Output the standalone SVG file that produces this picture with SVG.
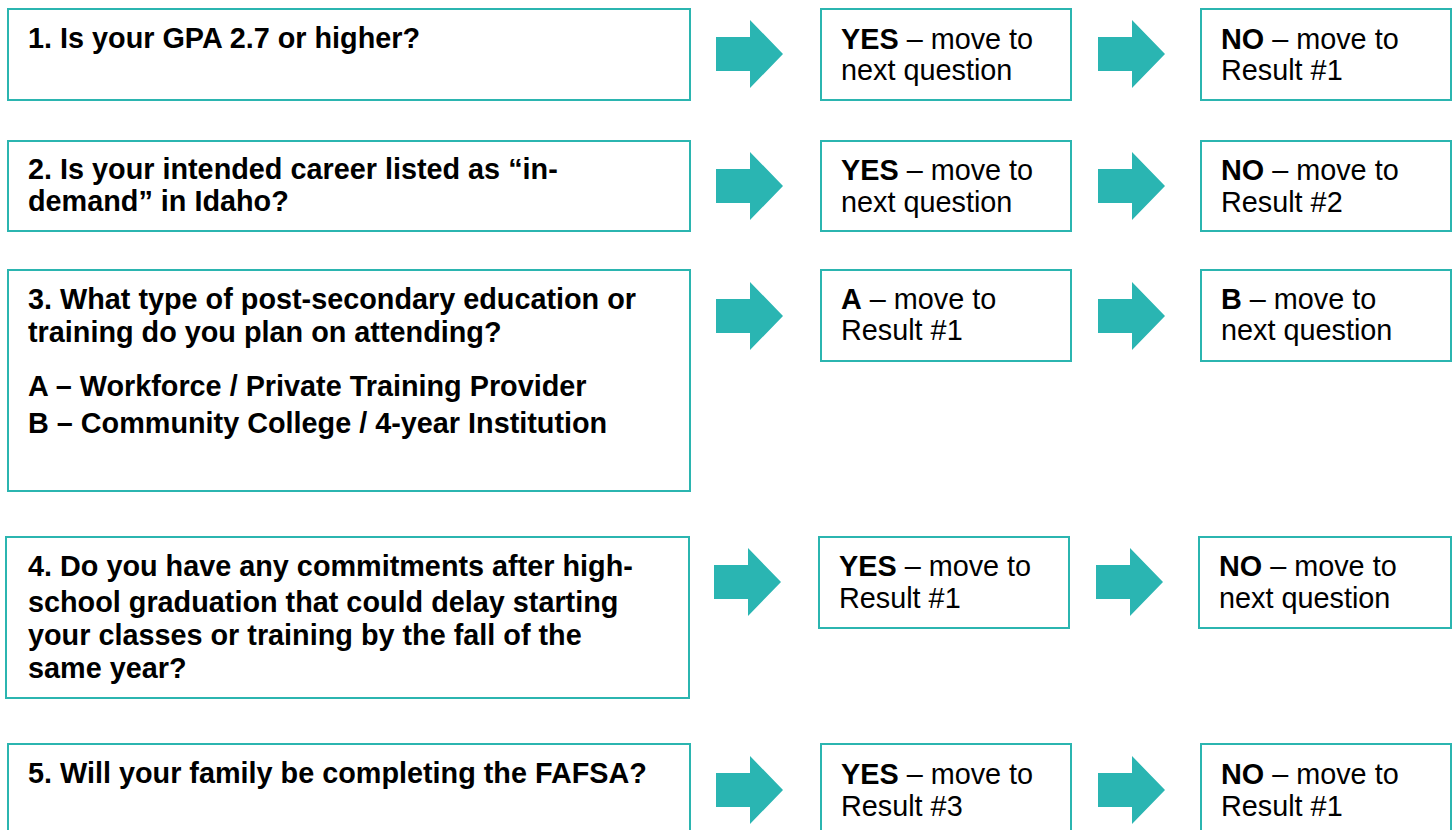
<svg xmlns="http://www.w3.org/2000/svg" width="1456" height="830" viewBox="0 0 1456 830">
<style>
.box{fill:#fff;stroke:#2bb5b0;stroke-width:2}
.arr{fill:#2ab5b2}
text{font-family:"Liberation Sans",Arial,sans-serif;font-size:28.8px;fill:#000}
.b{font-weight:bold}
</style>
<rect width="1456" height="830" fill="#fff"/>
<defs>
<polygon id="ar" class="arr" points="0,-17 34,-17 34,-34 67,0 34,34 34,17 0,17"/>
</defs>
<g id="connectors">
<use href="#ar" x="716" y="54"/>
<use href="#ar" x="1098" y="54"/>
<use href="#ar" x="716" y="186"/>
<use href="#ar" x="1098" y="186"/>
<use href="#ar" x="716" y="316"/>
<use href="#ar" x="1098" y="316"/>
<use href="#ar" x="714" y="582"/>
<use href="#ar" x="1096" y="582"/>
<use href="#ar" x="716" y="790"/>
<use href="#ar" x="1098" y="790"/>
</g>
<g id="q1">
<rect class="box" x="8" y="9" width="682" height="91"/>
<text class="b" x="28" y="48">1. Is your GPA 2.7 or higher?</text>
</g>
<g id="q1yes">
<rect class="box" x="821" y="9" width="250" height="91"/>
<text x="841" y="49"><tspan class="b">YES</tspan> – move to</text>
<text x="841" y="80">next question</text>
</g>
<g id="q1no">
<rect class="box" x="1201" y="9" width="250" height="91"/>
<text x="1221" y="49"><tspan class="b">NO</tspan> – move to</text>
<text x="1221" y="80">Result #1</text>
</g>
<g id="q2">
<rect class="box" x="8" y="141" width="682" height="90"/>
<text class="b" x="28" y="179">2. Is your intended career listed as “in-</text>
<text class="b" x="28" y="211">demand” in Idaho?</text>
</g>
<g id="q2yes">
<rect class="box" x="821" y="141" width="250" height="90"/>
<text x="841" y="180"><tspan class="b">YES</tspan> – move to</text>
<text x="841" y="212">next question</text>
</g>
<g id="q2no">
<rect class="box" x="1201" y="141" width="250" height="90"/>
<text x="1221" y="180"><tspan class="b">NO</tspan> – move to</text>
<text x="1221" y="212">Result #2</text>
</g>
<g id="q3">
<rect class="box" x="8" y="270" width="682" height="221"/>
<text class="b" x="28" y="309">3. What type of post-secondary education or</text>
<text class="b" x="28" y="342">training do you plan on attending?</text>
<text class="b" x="28" y="396">A – Workforce / Private Training Provider</text>
<text class="b" x="28" y="433">B – Community College / 4-year Institution</text>
</g>
<g id="q3a">
<rect class="box" x="821" y="270" width="250" height="91"/>
<text x="841" y="309"><tspan class="b">A</tspan> – move to</text>
<text x="841" y="340">Result #1</text>
</g>
<g id="q3b">
<rect class="box" x="1201" y="270" width="250" height="91"/>
<text x="1221" y="309"><tspan class="b">B</tspan> – move to</text>
<text x="1221" y="340">next question</text>
</g>
<g id="q4">
<rect class="box" x="6" y="537" width="683" height="161"/>
<text class="b" x="28" y="576">4. Do you have any commitments after high-</text>
<text class="b" x="28" y="612">school graduation that could delay starting</text>
<text class="b" x="28" y="645">your classes or training by the fall of the</text>
<text class="b" x="28" y="678">same year?</text>
</g>
<g id="q4yes">
<rect class="box" x="819" y="537" width="250" height="91"/>
<text x="839" y="576"><tspan class="b">YES</tspan> – move to</text>
<text x="839" y="608">Result #1</text>
</g>
<g id="q4no">
<rect class="box" x="1199" y="537" width="252" height="91"/>
<text x="1219" y="576"><tspan class="b">NO</tspan> – move to</text>
<text x="1219" y="608">next question</text>
</g>
<g id="q5">
<rect class="box" x="8" y="744" width="682" height="100"/>
<text class="b" x="28" y="783">5. Will your family be completing the FAFSA?</text>
</g>
<g id="q5yes">
<rect class="box" x="821" y="744" width="250" height="100"/>
<text x="841" y="784"><tspan class="b">YES</tspan> – move to</text>
<text x="841" y="816">Result #3</text>
</g>
<g id="q5no">
<rect class="box" x="1201" y="744" width="250" height="100"/>
<text x="1221" y="784"><tspan class="b">NO</tspan> – move to</text>
<text x="1221" y="816">Result #1</text>
</g>
</svg>
